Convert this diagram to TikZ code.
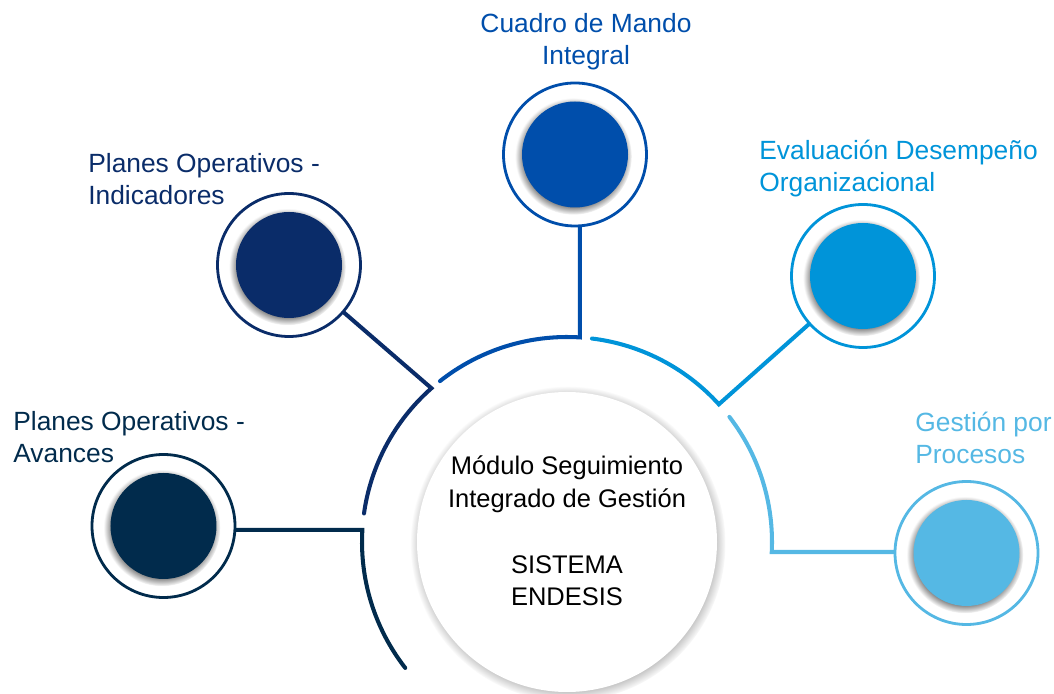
\documentclass[tikz,border=0pt]{standalone}
\usepackage{fontspec}
\setmainfont{Liberation Sans}
\usetikzlibrary{calc,positioning,shadows}
\definecolor{avcol}{HTML}{012B4C}
\definecolor{incol}{HTML}{0A2C69}
\definecolor{cmcol}{HTML}{004EAB}
\definecolor{evcol}{HTML}{0094D9}
\definecolor{prcol}{HTML}{55B8E4}

\begin{document}
\begin{tikzpicture}[
    ring/.style={circle, draw=#1, line width=1.6pt, fill=white, minimum size=2.86cm, inner sep=0pt},
    disc/.style={circle, fill=#1, minimum size=2.12cm, inner sep=0pt,
        circular drop shadow={shadow xshift=-0.8pt, shadow yshift=-1pt, shadow scale=1.1}},
    band/.style={draw=#1, line width=2.3pt, line cap=round, line join=miter},
    lbl/.style={text=#1, font=\fontsize{15}{18.7}\selectfont, inner sep=0pt}
]
    \useasboundingbox (-11.34,-3.02) rectangle (9.74,10.84);

    % centre
    \node[circle, fill=white, minimum size=6cm, inner sep=0pt,
        circular drop shadow={shadow xshift=0.5pt, shadow yshift=-1pt, shadow scale=1.05}] (sis) at (0,0) {};
    \node[font=\fontsize{14.5}{18.7}\selectfont, align=center] (sistxt) at ([yshift=0.22cm]sis.center)
        {Módulo Seguimiento\\Integrado de Gestión\\[18.7pt]SISTEMA\\ENDESIS};

    % outer circles
    \node[ring=avcol] (avc) at (-8.07,0.32) {};
    \node[disc=avcol] (avc-in) at (avc) {};
    \node[ring=incol] (ind) at (-5.56,5.54) {};
    \node[disc=incol] (ind-in) at (ind) {};
    \node[ring=cmcol] (cmi) at (0.16,7.75) {};
    \node[disc=cmcol] (cmi-in) at (cmi) {};
    \node[ring=evcol] (eva) at (5.92,5.32) {};
    \node[disc=evcol] (eva-in) at (eva) {};
    \node[ring=prcol] (pro) at (7.99,-0.22) {};
    \node[disc=prcol] (pro-in) at (pro) {};

    % arc corners
    \coordinate (k1) at (176.6:4.1);
    \coordinate (k2) at (131.4:4.1);
    \coordinate (k3) at (86.4:4.1);
    \coordinate (k4) at (42.2:4.1);
    \coordinate (k5) at (-2.8:4.1);

    % arcs and connectors
    \draw[band=avcol] (217.9:4.1) arc[start angle=217.9, end angle=176.6, radius=4.1] -- (k1 -| avc.east);
    \draw[band=incol] (172:4.1) arc[start angle=172, end angle=131.4, radius=4.1] -- (ind);
    \draw[band=cmcol] (128.3:4.1) arc[start angle=128.3, end angle=86.4, radius=4.1] -- (k3 |- cmi.south);
    \draw[band=evcol] (83:4.1) arc[start angle=83, end angle=42.2, radius=4.1] -- (eva);
    \draw[band=prcol] (37.6:4.1) arc[start angle=37.6, end angle=-2.8, radius=4.1] -- (k5 -| pro.west);

    % labels (base = last line)
    \node[lbl=cmcol, align=center, anchor=base] (cmi-lbl) at (0.38,9.54) {Cuadro de Mando\\Integral};
    \node[lbl=incol, align=left, anchor=base west] (ind-lbl) at (-9.58,6.74) {Planes Operativos -\\Indicadores};
    \node[lbl=avcol, align=left, anchor=base west] (avc-lbl) at (-11.08,1.58) {Planes Operativos -\\Avances};
    \node[lbl=evcol, align=left, anchor=base west] (eva-lbl) at (3.84,7.0) {Evaluación Desempeño\\Organizacional};
    \node[lbl=prcol, align=left, anchor=base west] (pro-lbl) at (6.96,1.56) {Gestión por\\Procesos};
\end{tikzpicture}
\end{document}
